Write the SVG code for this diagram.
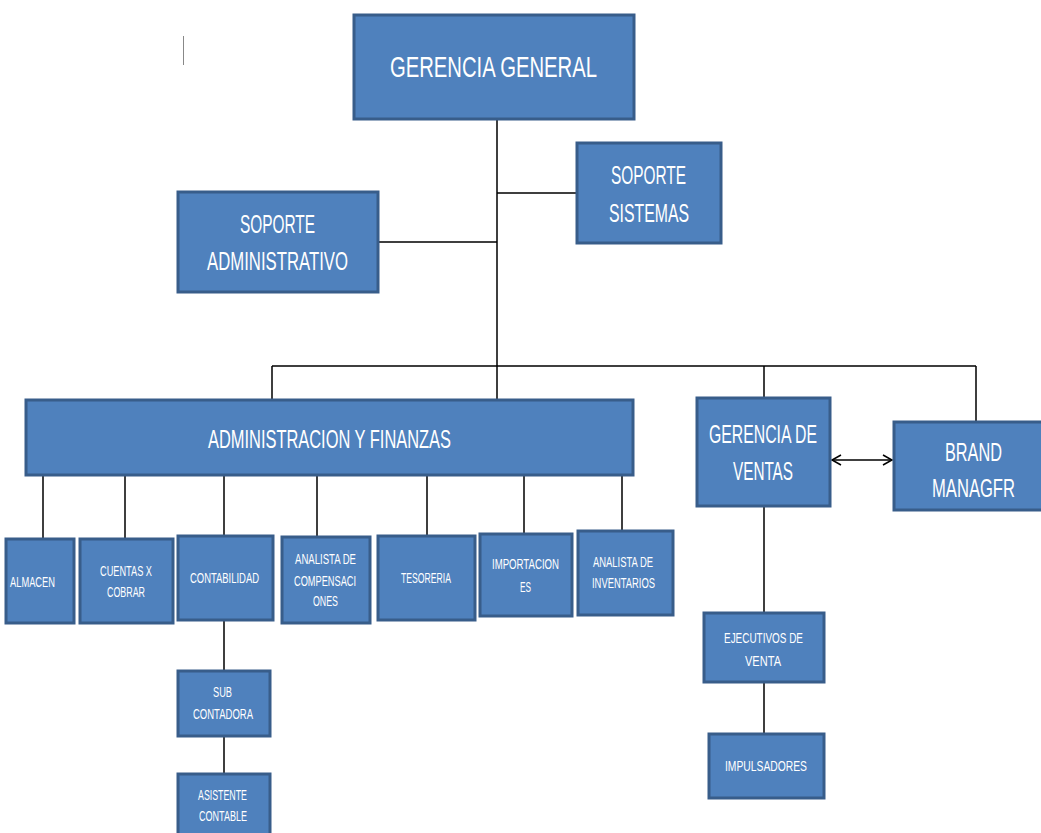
<svg xmlns="http://www.w3.org/2000/svg" width="1041" height="833" viewBox="0 0 1041 833">
<style>
.box{fill:#4f81bd;stroke:#385d8a;stroke-width:3}
.t{fill:#ffffff;font-family:"Liberation Sans",Arial,sans-serif;text-anchor:middle}
.l{stroke:#000;stroke-width:1.5;fill:none}
.s{font-size:14px}
.m{font-size:25px}
</style>
<defs>
<marker id="ah" markerWidth="12" markerHeight="12" refX="10" refY="6" orient="auto-start-reverse" markerUnits="userSpaceOnUse">
<path d="M1,1 L10,6 L1,11" fill="none" stroke="#000" stroke-width="1.5"/>
</marker>
</defs>
<rect width="1041" height="833" fill="#ffffff"/>
<line x1="183.5" y1="36" x2="183.5" y2="65" stroke="#888" stroke-width="1"/>
<g id="connectors">
<path class="l" d="M497,119 V400 M497,193 H577 M378,242 H497"/>
<path class="l" d="M272,366 H976 M272,366 V400 M764,366 V398 M976,366 V422"/>
<path class="l" d="M43,475 V539 M125,475 V539 M224,475 V535 M317,475 V537 M427,475 V535 M524,470 V533 M622,472 V530"/>
<path class="l" d="M224,620 V670 M224,736 V773"/>
<path class="l" d="M764,506 V612 M764,682 V733"/>
<line class="l" x1="832" y1="460" x2="892" y2="460" marker-start="url(#ah)" marker-end="url(#ah)"/>
</g>
<g id="gerencia-general"><rect class="box" x="354" y="15" width="280" height="104"/><text class="t" x="493.5" y="77" font-size="29" textLength="207" lengthAdjust="spacingAndGlyphs">GERENCIA GENERAL</text></g>
<g id="soporte-sistemas"><rect class="box" x="577" y="143" width="144" height="100"/><text class="t m" x="648.5" y="184" textLength="75" lengthAdjust="spacingAndGlyphs">SOPORTE</text><text class="t m" x="649" y="222" textLength="80" lengthAdjust="spacingAndGlyphs">SISTEMAS</text></g>
<g id="soporte-administrativo"><rect class="box" x="178" y="192" width="200" height="100"/><text class="t m" x="277.5" y="233" textLength="75" lengthAdjust="spacingAndGlyphs">SOPORTE</text><text class="t m" x="277.5" y="270" textLength="141" lengthAdjust="spacingAndGlyphs">ADMINISTRATIVO</text></g>
<g id="administracion-finanzas"><rect class="box" x="26" y="400" width="607" height="75"/><text class="t m" x="329.5" y="448" textLength="243" lengthAdjust="spacingAndGlyphs">ADMINISTRACION Y FINANZAS</text></g>
<g id="gerencia-ventas"><rect class="box" x="697" y="398" width="133" height="108"/><text class="t m" x="763" y="443" textLength="108" lengthAdjust="spacingAndGlyphs">GERENCIA DE</text><text class="t m" x="763" y="480" textLength="60" lengthAdjust="spacingAndGlyphs">VENTAS</text></g>
<g id="brand-manager"><rect class="box" x="894" y="422" width="152" height="88"/><text class="t m" x="973.5" y="461" textLength="57" lengthAdjust="spacingAndGlyphs">BRAND</text><text class="t m" x="973.5" y="497" textLength="83" lengthAdjust="spacingAndGlyphs">MANAGFR</text></g>
<g id="almacen"><rect class="box" x="6" y="539" width="68" height="84"/><text class="t s" x="32.5" y="587" textLength="45" lengthAdjust="spacingAndGlyphs">ALMACEN</text></g>
<g id="cuentas-x-cobrar"><rect class="box" x="80" y="539" width="93" height="84"/><text class="t s" x="126" y="576" textLength="52" lengthAdjust="spacingAndGlyphs">CUENTAS X</text><text class="t s" x="126" y="597" textLength="38" lengthAdjust="spacingAndGlyphs">COBRAR</text></g>
<g id="contabilidad"><rect class="box" x="178" y="536" width="95" height="84"/><text class="t s" x="224.5" y="583" textLength="69" lengthAdjust="spacingAndGlyphs">CONTABILIDAD</text></g>
<g id="analista-compensaciones"><rect class="box" x="282" y="537" width="88" height="86"/><text class="t s" x="325.5" y="564" textLength="61" lengthAdjust="spacingAndGlyphs">ANALISTA DE</text><text class="t s" x="325" y="586" textLength="62" lengthAdjust="spacingAndGlyphs">COMPENSACI</text><text class="t s" x="325.5" y="606" textLength="25" lengthAdjust="spacingAndGlyphs">ONES</text></g>
<g id="tesoreria"><rect class="box" x="378" y="536" width="97" height="84"/><text class="t s" x="426" y="583" textLength="50" lengthAdjust="spacingAndGlyphs">TESORERIA</text></g>
<g id="importaciones"><rect class="box" x="480" y="534" width="92" height="82"/><text class="t s" x="525.5" y="569" textLength="67" lengthAdjust="spacingAndGlyphs">IMPORTACION</text><text class="t s" x="525.5" y="592" textLength="11" lengthAdjust="spacingAndGlyphs">ES</text></g>
<g id="analista-inventarios"><rect class="box" x="578" y="531" width="95" height="84"/><text class="t s" x="623" y="567" textLength="60" lengthAdjust="spacingAndGlyphs">ANALISTA DE</text><text class="t s" x="623.5" y="588" textLength="63" lengthAdjust="spacingAndGlyphs">INVENTARIOS</text></g>
<g id="sub-contadora"><rect class="box" x="178" y="671" width="92" height="65"/><text class="t s" x="222.5" y="697" textLength="19" lengthAdjust="spacingAndGlyphs">SUB</text><text class="t s" x="223" y="719" textLength="60" lengthAdjust="spacingAndGlyphs">CONTADORA</text></g>
<g id="asistente-contable"><rect class="box" x="178" y="774" width="92" height="65"/><text class="t s" x="222.5" y="800" textLength="49" lengthAdjust="spacingAndGlyphs">ASISTENTE</text><text class="t s" x="223" y="821" textLength="48" lengthAdjust="spacingAndGlyphs">CONTABLE</text></g>
<g id="ejecutivos-venta"><rect class="box" x="704" y="613" width="120" height="69"/><text class="t s" x="763.5" y="643" textLength="79" lengthAdjust="spacingAndGlyphs">EJECUTIVOS DE</text><text class="t s" x="763" y="666" textLength="36" lengthAdjust="spacingAndGlyphs">VENTA</text></g>
<g id="impulsadores"><rect class="box" x="709" y="734" width="115" height="64"/><text class="t s" x="766" y="771" textLength="82" lengthAdjust="spacingAndGlyphs">IMPULSADORES</text></g>
</svg>
